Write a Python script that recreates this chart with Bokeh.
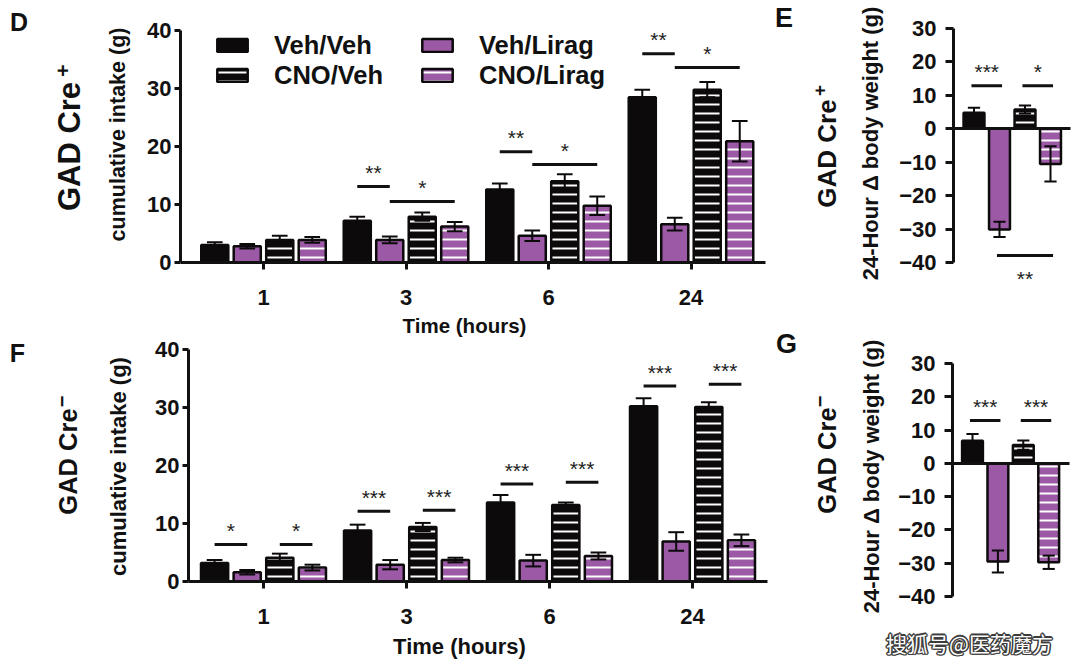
import numpy as np
from bokeh.plotting import figure
from bokeh.models import Range1d, FixedTicker, Legend, LegendItem
from bokeh.layouts import row, column
from bokeh.embed import file_html
from bokeh.resources import INLINE
from bokeh.core.properties import value

# ---------------- data ----------------
categories = ["1", "3", "6", "24"]          # Time (hours)
series = ["Veh/Veh", "Veh/Lirag", "CNO/Veh", "CNO/Lirag"]

# Panel D  (GAD Cre+) cumulative intake (g)
d_veh_veh = [3.0, 7.2, 12.6, 28.5]
d_veh_lirag = [2.8, 3.9, 4.6, 6.6]
d_cno_veh = [3.9, 7.9, 14.0, 29.8]
d_cno_lirag = [3.9, 6.2, 9.8, 20.9]
d_veh_veh_err = [0.5, 0.7, 1.0, 1.3]
d_veh_lirag_err = [0.4, 0.6, 0.9, 1.1]
d_cno_veh_err = [0.7, 0.7, 1.2, 1.3]
d_cno_lirag_err = [0.5, 0.8, 1.6, 3.5]

# Panel F  (GAD Cre-) cumulative intake (g)
f_veh_veh = [3.2, 8.8, 13.6, 30.2]
f_veh_lirag = [1.6, 2.9, 3.6, 6.9]
f_cno_veh = [4.1, 9.4, 13.2, 30.1]
f_cno_lirag = [2.4, 3.7, 4.4, 7.1]
f_veh_veh_err = [0.5, 1.0, 1.3, 1.4]
f_veh_lirag_err = [0.4, 0.8, 1.0, 1.6]
f_cno_veh_err = [0.7, 0.7, 0.4, 0.8]
f_cno_lirag_err = [0.5, 0.4, 0.6, 1.0]

# Panel E  (GAD Cre+) 24-hour change in body weight (g)
e_mean = [4.8, -30.1, 5.8, -10.5]
e_err = [1.5, 2.3, 1.2, 5.3]
# Panel G  (GAD Cre-)
g_mean = [6.8, -29.5, 5.5, -29.7]
g_err = [2.0, 3.3, 1.4, 2.0]

# significance brackets: group, bar a, bar b, level, label
d_sig_group = [1, 1, 2, 2, 3, 3]
d_sig_a = [0, 1, 0, 1, 0, 1]
d_sig_b = [1, 3, 1, 3, 1, 3]
d_sig_y = [13.1, 10.5, 19.1, 16.9, 36.0, 33.6]
d_sig_label = ["**", "*", "**", "*", "**", "*"]

f_sig_group = [0, 0, 1, 1, 2, 2, 3, 3]
f_sig_a = [0, 2, 0, 2, 0, 2, 0, 2]
f_sig_b = [1, 3, 1, 3, 1, 3, 1, 3]
f_sig_y = [6.4, 6.4, 12.1, 12.3, 16.8, 17.1, 33.7, 34.0]
f_sig_label = ["*", "*", "***", "***", "***", "***", "***", "***"]

e_sig_a = [0, 2, 1]
e_sig_b = [1, 3, 3]
e_sig_y = [12.9, 12.9, -37.9]
e_sig_label = ["***", "*", "**"]
e_sig_below = [False, False, True]

g_sig_a = [0, 2]
g_sig_b = [1, 3]
g_sig_y = [12.9, 12.9]
g_sig_label = ["***", "***"]
g_sig_below = [False, False]

# ---------------- style ----------------
BLACK = "#0d0a0b"
PURPLE = "#9b59a6"
FILLS = [BLACK, PURPLE, BLACK, PURPLE]
HATCH = ["blank", "blank", "horizontal_line", "horizontal_line"]
FONT = "Liberation Sans"
INK = "#111111"


class Panel:
    """Figure whose frame fills the whole canvas; px <-> data via anchors."""

    def __init__(self, rect, x0px, xpitch, y0px, yscale):
        self.L, self.T, self.W, self.H = rect
        self.x0px, self.xpitch, self.y0px, self.yscale = x0px, xpitch, y0px, yscale
        R, B = self.L + self.W, self.T + self.H
        xr = ((self.L - x0px) / xpitch, (R - x0px) / xpitch)
        yr = ((y0px - B) / yscale, (y0px - self.T) / yscale)
        p = figure(width=self.W, height=self.H, x_range=Range1d(*xr), y_range=Range1d(*yr),
                   output_backend="svg", toolbar_location=None, title=None,
                   min_border=0, min_border_left=0, min_border_right=0,
                   min_border_top=0, min_border_bottom=0)
        p.outline_line_color = None
        p.xgrid.visible = False
        p.ygrid.visible = False
        p.background_fill_color = "white"
        p.border_fill_color = "white"
        for ax in (p.xaxis[0], p.yaxis[0]):
            ax.axis_line_width = 3
            ax.axis_line_color = INK
            ax.major_tick_line_width = 3
            ax.major_tick_line_color = INK
            ax.major_tick_in = 0
            ax.minor_tick_line_color = None
            ax.major_label_text_font = FONT
            ax.major_label_text_font_style = "bold"
            ax.major_label_text_font_size = "22px"
            ax.major_label_text_color = INK
        self.p = p

    def dx(self, px):
        return (px - self.x0px) / self.xpitch

    def dy(self, py):
        return (self.y0px - py) / self.yscale

    def text(self, px, py, txt, size, angle=0.0, font=FONT, style="bold", color=INK,
             xo=0, yo=0):
        self.p.text(x=[self.dx(px)], y=[self.dy(py)], text=[txt], angle=angle,
                    text_font=value(font), text_font_style=style, text_font_size=size,
                    text_color=color, text_align="center", text_baseline="middle",
                    x_offset=xo, y_offset=yo)


def bars_with_err(p, xs, means, errs, width, cap, fill, hatch):
    xs = np.asarray(xs, dtype=float)
    m = np.asarray(means, dtype=float)
    e = np.asarray(errs, dtype=float)
    r = p.vbar(x=xs, top=m, bottom=0, width=width, fill_color=fill, line_color=BLACK,
               line_width=2.5, hatch_pattern=hatch, hatch_color="white", hatch_scale=9,
               hatch_weight=2)
    p.segment(x0=xs, y0=m - e, x1=xs, y1=m + e, line_color=BLACK, line_width=2)
    p.segment(x0=xs - cap, y0=m + e, x1=xs + cap, y1=m + e, line_color=BLACK, line_width=2)
    p.segment(x0=xs - cap, y0=m - e, x1=xs + cap, y1=m - e, line_color=BLACK, line_width=2)
    return r


def sig(p, x0, x1, y, labels, below):
    x0 = np.asarray(x0, float)
    x1 = np.asarray(x1, float)
    y = np.asarray(y, float)
    p.segment(x0=x0, y0=y, x1=x1, y1=y, line_color=INK, line_width=3)
    below = np.asarray(below, bool)
    xm = (x0 + x1) / 2
    for mask, off in ((~below, -14), (below, 23)):
        if mask.any():
            p.text(x=xm[mask], y=y[mask], text=[l for l, k in zip(labels, mask) if k],
                   text_font=value(FONT), text_font_size="21px", text_color="#222222",
                   text_align="center", text_baseline="alphabetic", y_offset=off)


OFFS = [-0.342, -0.114, 0.114, 0.342]


def intake_panel(rect, x0px, xpitch, y0px, yaxis_px, xend_px, means, errs,
                 sg, sa, sb, sy, sl, legend):
    P = Panel(rect, x0px, xpitch, y0px, 5.8)
    p = P.p
    groups = np.arange(len(categories))
    rends = []
    for i in range(4):
        rends.append(bars_with_err(p, groups + OFFS[i], means[i], errs[i], 0.19, 0.055,
                                   FILLS[i], HATCH[i]))
    ga = np.asarray(sg)
    x0 = ga + np.asarray(OFFS)[np.asarray(sa)]
    x1 = ga + np.asarray(OFFS)[np.asarray(sb)]
    sig(p, x0, x1, sy, sl, [False] * len(sy))
    ya = p.yaxis[0]
    ya.fixed_location = P.dx(yaxis_px)
    ya.ticker = FixedTicker(ticks=[0, 10, 20, 30, 40])
    ya.bounds = (0, 40)
    ya.major_tick_out = 6
    ya.major_label_standoff = 3
    xa = p.xaxis[0]
    xa.fixed_location = 0
    xa.bounds = (P.dx(yaxis_px), P.dx(xend_px))
    xa.ticker = FixedTicker(ticks=list(groups))
    xa.major_label_overrides = {int(g): c for g, c in zip(groups, categories)}
    xa.major_tick_out = 7
    xa.major_label_standoff = 20
    if legend:
        for cols, vx in (((0, 2), 213), ((1, 3), 418)):
            lg = Legend(items=[LegendItem(label=series[c], renderers=[rends[c]]) for c in cols],
                        location=(vx, rect[3] - 90), orientation="vertical")
            lg.glyph_width = 38
            lg.glyph_height = 16
            lg.label_standoff = 23
            lg.label_height = 30
            lg.padding = 0
            lg.spacing = 0
            lg.margin = 0
            lg.border_line_color = None
            lg.background_fill_alpha = 0
            lg.label_text_font = FONT
            lg.label_text_font_style = "bold"
            lg.label_text_font_size = "25.5px"
            lg.label_text_color = INK
            p.add_layout(lg)
    return P


def weight_panel(rect, x0px, xpitch, y0px, yscale, yaxis_px, xend_px, mean, err,
                 sa, sb, sy, sl, sbelow):
    P = Panel(rect, x0px, xpitch, y0px, yscale)
    p = P.p
    for i in range(4):
        bars_with_err(p, [i], [mean[i]], [err[i]], 0.82, 0.24, FILLS[i], HATCH[i])
    pad = 0.1
    sig(p, np.asarray(sa) - pad, np.asarray(sb) + pad, sy, sl, sbelow)
    ticks = [-40, -30, -20, -10, 0, 10, 20, 30]
    ya = p.yaxis[0]
    ya.fixed_location = P.dx(yaxis_px)
    ya.ticker = FixedTicker(ticks=ticks)
    ya.major_label_overrides = {t: (str(t) if t >= 0 else "\u2212" + str(-t)) for t in ticks}
    ya.bounds = (-40, 30)
    ya.major_tick_out = 8
    ya.major_label_standoff = 9
    xa = p.xaxis[0]
    xa.fixed_location = 0
    xa.bounds = (P.dx(yaxis_px), P.dx(xend_px))
    xa.ticker = FixedTicker(ticks=[])
    xa.major_tick_line_color = None
    return P


# ---------------- layout (page px, origin top-left) ----------------
PD = intake_panel((0, 0, 770, 337), 263, 142.5, 262, 180, 765,
                  [d_veh_veh, d_veh_lirag, d_cno_veh, d_cno_lirag],
                  [d_veh_veh_err, d_veh_lirag_err, d_cno_veh_err, d_cno_lirag_err],
                  d_sig_group, d_sig_a, d_sig_b, d_sig_y, d_sig_label, True)
PF = intake_panel((0, 337, 770, 329), 263, 143.0, 581, 188, 767,
                  [f_veh_veh, f_veh_lirag, f_cno_veh, f_cno_lirag],
                  [f_veh_veh_err, f_veh_lirag_err, f_cno_veh_err, f_cno_lirag_err],
                  f_sig_group, f_sig_a, f_sig_b, f_sig_y, f_sig_label, False)
PE = weight_panel((770, 0, 310, 326), 973.5, 25.5, 128.3, 3.343, 953, 1070,
                  e_mean, e_err, e_sig_a, e_sig_b, e_sig_y, e_sig_label, e_sig_below)
PG = weight_panel((770, 326, 310, 340), 972.0, 25.4, 462.9, 3.329, 952, 1069,
                  g_mean, g_err, g_sig_a, g_sig_b, g_sig_y, g_sig_label, g_sig_below)

ROT = np.pi / 2
# axis titles
PD.text(117, 134, "cumulative intake (g)", "21.5px", angle=ROT)
PF.text(118, 466, "cumulative intake (g)", "22px", angle=ROT)
PD.text(464, 325, "Time (hours)", "20.5px")
PF.text(459, 646, "Time (hours)", "22px")
PE.text(870, 143, "24-Hour \u0394 body weight (g)", "22px", angle=ROT)
PG.text(871, 476, "24-Hour \u0394 body weight (g)", "22px", angle=ROT)
# group titles: "GAD Cre" plus a raised sign
PD.text(68.5, 146, "GAD Cre", "31px", angle=ROT)
PD.text(62, 70, "+", "21px", angle=ROT)
PF.text(67, 461, "GAD Cre", "25.5px", angle=ROT)
PF.text(61, 401, "\u2212", "20px", angle=ROT)
PE.text(826, 153, "GAD Cre", "26px", angle=ROT)
PE.text(819, 90, "+", "19px", angle=ROT)
PG.text(826, 460, "GAD Cre", "25.5px", angle=ROT)
PG.text(819, 401, "\u2212", "20px", angle=ROT)
# panel letters
PD.text(18.5, 21.5, "D", "25px")
PE.text(783.5, 17.5, "E", "27px")
PF.text(17, 352.5, "F", "25px")
PG.text(786, 343, "G", "27px")
# watermark (white text with dark outline)
for dx, dy in ((-1, -1), (1, -1), (-1, 1), (1, 1), (0, -1.5), (0, 1.5), (-1.5, 0), (1.5, 0)):
    PG.text(969, 642, "搜狐号@医药魔方", "21px", font="Noto Sans CJK SC", style="normal",
            color="#3c3c3c", xo=dx, yo=dy)
PG.text(969, 642, "搜狐号@医药魔方", "21px", font="Noto Sans CJK SC", style="normal",
        color="white")

layout = row(column(PD.p, PF.p, spacing=0), column(PE.p, PG.p, spacing=0), spacing=0)
open("out.html", "w").write(file_html(layout, INLINE))
